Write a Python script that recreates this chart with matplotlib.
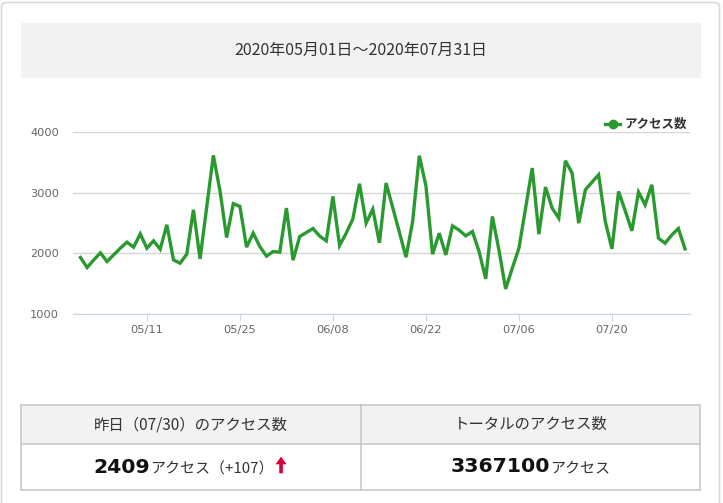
import matplotlib
matplotlib.use("Agg")
import matplotlib.pyplot as plt
from matplotlib.patches import Rectangle, FancyBboxPatch, Polygon
from matplotlib.offsetbox import TextArea, HPacker, DrawingArea, AnnotationBbox
import pandas as pd

plt.rcParams['font.family'] = ['Noto Sans CJK JP', 'DejaVu Sans']

# daily access counts 2020-05-01 .. 2020-07-31
dates = pd.date_range("2020-05-01", "2020-07-31", freq="D")
access = [1931, 1766, 1892, 2008, 1865, 1975, 2085, 2184, 2101, 2321,
          2085, 2206, 2068, 2470, 1892, 1837, 1986, 2718, 1909, 2760,
          3615, 3030, 2261, 2818, 2774, 2102, 2332, 2112, 1953, 2030,
          2019, 2746, 1887, 2277, 2343, 2409, 2285, 2206, 2938, 2129,
          2332, 2569, 3147, 2498, 2729, 2173, 3158, 2755, 2350, 1936,
          2525, 3609, 3114, 1986, 2332, 1975, 2453, 2382, 2288, 2360,
          2030, 1579, 2608, 2050, 1413, 1755, 2085, 2745, 3406, 2316,
          3092, 2745, 2580, 3527, 3323, 2497, 3048, 3174, 3295, 2525,
          2074, 3020, 2700, 2371, 3009, 2800, 3130, 2250, 2167, 2302,
          2409, 2074]
tick_dates = ["2020-05-11", "2020-05-25", "2020-06-08", "2020-06-22", "2020-07-06", "2020-07-20"]
tick_labels = ["05/11", "05/25", "06/08", "06/22", "07/06", "07/20"]
y_ticks = [1000, 2000, 3000, 4000]

title = "2020年05月01日～2020年07月31日"
series_name = "アクセス数"
yesterday_label = "昨日（07/30）のアクセス数"
total_label = "トータルのアクセス数"
yesterday_value = "2409"
yesterday_diff = "（+107）"
total_value = "3367100"

W, H = 723, 503
fig = plt.figure(figsize=(W / 100, H / 100), dpi=100)
fig.patch.set_facecolor("white")

def px(x, y, w, h):
    # pixel box (top-left origin) -> figure fraction
    return (x / W, 1 - (y + h) / H, w / W, h / H)

# outer card
card = FancyBboxPatch((1.5 / W, -0.05), 718 / W, 1.05 - 2.5 / H,
                      boxstyle="round,pad=0,rounding_size=0.008",
                      transform=fig.transFigure, facecolor="none",
                      edgecolor="#d9d9d9", linewidth=1.2, zorder=-1)
fig.patches.append(card)

# header box
x0, y0, w0, h0 = px(21, 23, 680, 55)
fig.patches.append(Rectangle((x0, y0), w0, h0, transform=fig.transFigure,
                             facecolor="#f2f2f2", edgecolor="none", zorder=-1))
fig.text(x0 + w0 / 2, y0 + h0 / 2, title, ha="center", va="center",
         fontsize=11.5, color="#333333")

# chart
ax = fig.add_axes(px(73, 132, 617, 182))
ax.patch.set_alpha(0)
ax.plot(dates, access, color="#2a9a30", linewidth=2.4, label=series_name,
        solid_joinstyle="miter")
ax.set_ylim(1000, 4000)
ax.set_yticks(y_ticks)
ax.set_xlim(dates[0] - pd.Timedelta(hours=27), dates[-1] + pd.Timedelta(hours=18))
ax.set_xticks(pd.to_datetime(tick_dates))
ax.set_xticklabels(tick_labels)
ax.grid(axis="y", color="#d6d6d6", linewidth=1)
ax.set_axisbelow(True)
for s in ["top", "right", "left"]:
    ax.spines[s].set_visible(False)
ax.spines["bottom"].set_color("#ccd6eb")
ax.tick_params(axis="y", length=0, pad=10, labelsize=8.2, labelcolor="#666666")
ax.tick_params(axis="x", length=5, color="#ccd6eb", pad=3, labelsize=8.2, labelcolor="#666666")
for lab in ax.get_xticklabels() + ax.get_yticklabels():
    lab.set_family("DejaVu Sans")

handle, = ax.plot([], [], color="#2a9a30", linewidth=2.4, marker="o", markersize=6)
leg = ax.legend([handle], [series_name], loc="lower right", bbox_to_anchor=(1.0, 0.99),
                frameon=False, handlelength=1.2, handletextpad=0.4, fontsize=9,
                borderaxespad=0, borderpad=0.2)
for t in leg.get_texts():
    t.set_color("#333333")
    t.set_fontweight("bold")

# summary table
tx, ty, tw = 21, 405, 679
hh, vh = 39, 46
fig.patches.append(Rectangle(px(tx, ty, tw, hh)[:2], tw / W, hh / H, transform=fig.transFigure,
                             facecolor="#f2f2f2", edgecolor="none"))
fig.patches.append(Rectangle(px(tx, ty, tw, hh + vh)[:2], tw / W, (hh + vh) / H,
                             transform=fig.transFigure, facecolor="none",
                             edgecolor="#c8c8c8", linewidth=1.2))
fig.lines.append(plt.Line2D([tx / W, (tx + tw) / W], [1 - (ty + hh) / H] * 2,
                            transform=fig.transFigure, color="#c8c8c8", linewidth=1.2))
mid = 361
fig.lines.append(plt.Line2D([mid / W] * 2, [1 - ty / H, 1 - (ty + hh + vh) / H],
                            transform=fig.transFigure, color="#c8c8c8", linewidth=1.2))

lc = (tx + mid) / 2
rc = (mid + tx + tw) / 2
hy = 1 - (ty + hh / 2) / H
vy = 1 - (ty + hh + vh / 2) / H
fig.text(lc / W, hy, yesterday_label, ha="center", va="center", fontsize=11.1, color="#333333")
fig.text(rc / W, hy, total_label, ha="center", va="center", fontsize=11.1, color="#333333")

arrow = DrawingArea(11, 12, 0, 0)
arrow.add_artist(Polygon([[5.5, 12], [1.5, 6.5], [4.2, 6.5], [4.2, 0], [6.8, 0], [6.8, 6.5], [9.5, 6.5]],
                         closed=True, facecolor="#d6003c", edgecolor="none"))

num_props = dict(fontsize=14.7, fontweight="bold", color="#111111", family="DejaVu Sans")
small_props = dict(fontsize=10.8, color="#333333")

left_box = HPacker(children=[
    TextArea(yesterday_value, textprops=num_props),
    TextArea("アクセス" + yesterday_diff, textprops=small_props),
    arrow,
], align="baseline", pad=0, sep=0)
right_box = HPacker(children=[
    TextArea(total_value, textprops=num_props),
    TextArea("アクセス", textprops=small_props),
], align="baseline", pad=0, sep=0)
for box, cx in [(left_box, lc), (right_box, rc)]:
    ab = AnnotationBbox(box, (cx / W, vy), xycoords="figure fraction",
                        box_alignment=(0.5, 0.5), frameon=False, pad=0)
    fig.add_artist(ab)

fig.savefig("out.png", dpi=100)
